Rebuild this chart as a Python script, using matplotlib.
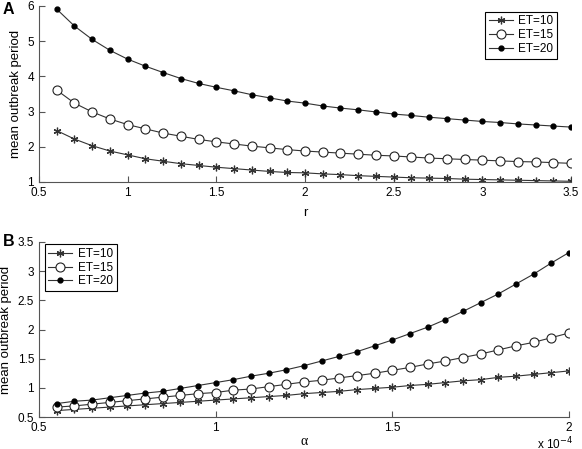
import matplotlib
matplotlib.use('Agg')
import matplotlib.pyplot as plt

plt.rcParams['font.family'] = ['Liberation Sans', 'DejaVu Sans']
plt.rcParams['font.size'] = 8.5

# Panel A: mean outbreak period vs r
r = [0.6, 0.7, 0.8, 0.9, 1.0, 1.1, 1.2, 1.3, 1.4, 1.5, 1.6, 1.7, 1.8, 1.9, 2.0,
     2.1, 2.2, 2.3, 2.4, 2.5, 2.6, 2.7, 2.8, 2.9, 3.0, 3.1, 3.2, 3.3, 3.4, 3.5]
a_et10 = [2.46, 2.22, 2.03, 1.88, 1.77, 1.66, 1.59, 1.52, 1.47, 1.42, 1.38, 1.34, 1.30, 1.27, 1.26,
          1.23, 1.21, 1.18, 1.16, 1.14, 1.12, 1.11, 1.10, 1.08, 1.07, 1.06, 1.05, 1.04, 1.03, 1.02]
a_et15 = [3.61, 3.24, 2.99, 2.79, 2.63, 2.51, 2.39, 2.30, 2.21, 2.14, 2.08, 2.02, 1.97, 1.92, 1.88,
          1.85, 1.82, 1.79, 1.76, 1.74, 1.71, 1.68, 1.66, 1.64, 1.62, 1.60, 1.58, 1.57, 1.55, 1.53]
a_et20 = [5.91, 5.43, 5.05, 4.74, 4.49, 4.29, 4.11, 3.94, 3.80, 3.69, 3.59, 3.48, 3.39, 3.30, 3.24,
          3.16, 3.10, 3.05, 2.99, 2.93, 2.89, 2.84, 2.80, 2.76, 2.72, 2.69, 2.65, 2.62, 2.59, 2.56]

# Panel B: mean outbreak period vs alpha (x 1e-4)
alpha = [0.55, 0.60, 0.65, 0.70, 0.75, 0.80, 0.85, 0.90, 0.95, 1.00, 1.05, 1.10, 1.15, 1.20, 1.25,
         1.30, 1.35, 1.40, 1.45, 1.50, 1.55, 1.60, 1.65, 1.70, 1.75, 1.80, 1.85, 1.90, 1.95, 2.00]
b_et10 = [0.61, 0.63, 0.65, 0.67, 0.69, 0.71, 0.73, 0.75, 0.77, 0.79, 0.81, 0.83, 0.85, 0.87, 0.90,
          0.92, 0.94, 0.97, 0.99, 1.01, 1.04, 1.06, 1.09, 1.12, 1.14, 1.18, 1.20, 1.23, 1.26, 1.29]
b_et15 = [0.67, 0.69, 0.72, 0.75, 0.78, 0.81, 0.84, 0.87, 0.90, 0.92, 0.96, 0.98, 1.02, 1.06, 1.10,
          1.13, 1.17, 1.21, 1.25, 1.30, 1.35, 1.41, 1.46, 1.52, 1.58, 1.65, 1.72, 1.78, 1.86, 1.94]
b_et20 = [0.73, 0.77, 0.79, 0.83, 0.87, 0.91, 0.94, 0.99, 1.04, 1.09, 1.14, 1.20, 1.25, 1.31, 1.38,
          1.46, 1.54, 1.62, 1.72, 1.82, 1.93, 2.04, 2.17, 2.31, 2.46, 2.61, 2.78, 2.95, 3.14, 3.32]

labels = ['ET=10', 'ET=15', 'ET=20']
W, H = 582, 449

fig = plt.figure(figsize=(W / 100, H / 100), dpi=100)
axA = fig.add_axes([39 / W, 1 - 182 / H, (571 - 39) / W, (182 - 6) / H])
axB = fig.add_axes([39 / W, 1 - 417 / H, (569 - 39) / W, (417 - 242) / H])


def draw(ax, x, ys):
    styles = [dict(marker=(6, 2, 0), markersize=5.5, mec='#333333', mew=0.9),
              dict(marker='o', markersize=6.5, mfc='white', mec='#222222', mew=0.8),
              dict(marker='.', markersize=7, mfc='black', mec='black')]
    for y, st, lab in zip(ys, styles, labels):
        ax.plot(x, y, color='#333333', lw=0.8, label=lab, **st)
    for s in ['top', 'right']:
        ax.spines[s].set_visible(False)
    for s in ['left', 'bottom']:
        ax.spines[s].set_color('#555555')
        ax.spines[s].set_linewidth(0.8)
    ax.tick_params(direction='in', length=4, width=0.8, color='#555555', labelsize=8.5)
    ax.set_ylabel('mean outbreak period', fontsize=9.5, labelpad=4)


draw(axA, r, [a_et10, a_et15, a_et20])
axA.set_xlim(0.5, 3.5)
axA.set_ylim(1, 6)
axA.set_xticks([0.5, 1, 1.5, 2, 2.5, 3, 3.5])
axA.set_xticklabels(['0.5', '1', '1.5', '2', '2.5', '3', '3.5'])
axA.set_yticks([1, 2, 3, 4, 5, 6])
axA.set_xlabel('r', fontsize=9.5, labelpad=6)
legA = axA.legend(loc='upper right', bbox_to_anchor=(0.985, 1.0), fancybox=False,
                  edgecolor='black', framealpha=1, fontsize=8.5, handlelength=2.0,
                  borderpad=0.3, labelspacing=0.15, handletextpad=0.5)
legA.get_frame().set_linewidth(0.8)

draw(axB, alpha, [b_et10, b_et15, b_et20])
axB.set_xlim(0.5, 2)
axB.set_ylim(0.5, 3.5)
axB.set_xticks([0.5, 1, 1.5, 2])
axB.set_xticklabels(['0.5', '1', '1.5', '2'])
axB.set_yticks([0.5, 1, 1.5, 2, 2.5, 3, 3.5])
axB.set_yticklabels(['0.5', '1', '1.5', '2', '2.5', '3', '3.5'])
axB.set_xlabel('α', fontsize=10, labelpad=1, family=['Liberation Serif', 'DejaVu Serif'])
legB = axB.legend(loc='upper left', bbox_to_anchor=(0.0, 1.02), fancybox=False,
                  edgecolor='black', framealpha=1, fontsize=8.5, handlelength=2.0,
                  borderpad=0.3, labelspacing=0.15, handletextpad=0.5)
legB.get_frame().set_linewidth(0.8)
fig.text(555 / W, 1 - 452 / H, r'x 10$^{-4}$', fontsize=8.5, ha='center', va='bottom')

fig.text(3 / W, 1 - 9 / H, 'A', fontsize=11.5, fontweight='bold', ha='left', va='center')
fig.text(3 / W, 1 - 241 / H, 'B', fontsize=11.5, fontweight='bold', ha='left', va='center')

fig.savefig('out.png', dpi=100)
